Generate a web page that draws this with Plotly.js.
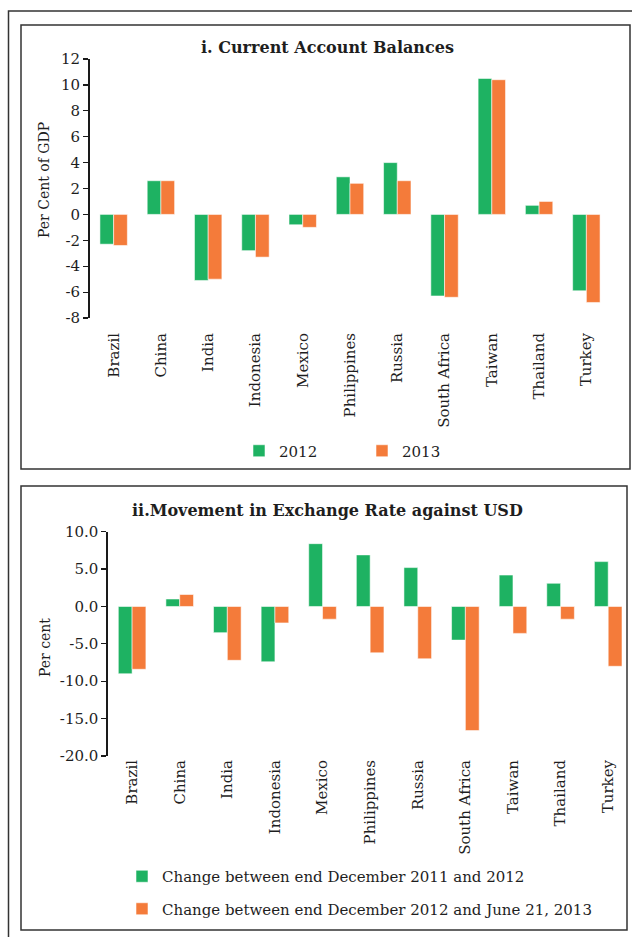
<!DOCTYPE html>
<html>
<head>
<meta charset="utf-8">
<script src="https://cdn.plot.ly/plotly-3.0.1.min.js"></script>
<style>html,body{margin:0;padding:0;background:#fff}#chart{width:632px;height:937px}</style>
</head>
<body>
<div id="chart"></div>
<script>
// ---- data ----
const countries = ["Brazil","China","India","Indonesia","Mexico","Philippines","Russia","South Africa","Taiwan","Thailand","Turkey"];
const caLabels = ["2012","2013"];
const ca2012 = [-2.3, 2.6, -5.1, -2.8, -0.8, 2.9, 4.0, -6.3, 10.5, 0.7, -5.9];
const ca2013 = [-2.4, 2.6, -5.0, -3.3, -1.0, 2.4, 2.6, -6.4, 10.4, 1.0, -6.8];
const fxLabels = ["Change between end December 2011 and 2012","Change between end December 2012 and June 21, 2013"];
const fx2012 = [-9.0, 1.0, -3.5, -7.4, 8.4, 6.9, 5.2, -4.5, 4.2, 3.1, 6.0];
const fx2013 = [-8.4, 1.6, -7.2, -2.2, -1.7, -6.2, -7.0, -16.6, -3.6, -1.7, -8.0];
const y1Ticks = [-8, -6, -4, -2, 0, 2, 4, 6, 8, 10, 12];
const y1TickText = ["-8", "-6", "-4", "-2", "0", "2", "4", "6", "8", "10", "12"];
const y2Ticks = [-20, -15, -10, -5, 0, 5, 10];
const y2TickText = ["-20.0", "-15.0", "-10.0", "-5.0", "0.0", "5.0", "10.0"];
const chart1Title = "i. Current Account Balances";
const chart1YTitle = "Per Cent of GDP";
const chart2Title = "ii.Movement in Exchange Rate against USD";
const chart2YTitle = "Per cent";

// ---- style ----
const W = 632, H = 937;
const GREEN = "#1eb262", ORANGE = "#f47b3a";
const FONT = "DejaVu Serif";
const TXT = "#1e1e1e";
const px = v => v / W;
const py = v => 1 - v / H;

const y1Range = [-8, 12], y2Range = [-20, 10];
const x1Dom = [px(90), px(610)], y1Dom = [py(318), py(59)];
const x2Dom = [px(108.3), 1], y2Dom = [py(756), py(531.7)];
const zeroPos = (dom, r) => dom[0] + (0 - r[0]) / (r[1] - r[0]) * (dom[1] - dom[0]);
const boundaries = countries.map((_, i) => i + 0.5);

const barLine = {color: "rgba(255,255,255,0.55)", width: 1};
const traces = [
  {type: "bar", x: countries, y: ca2012, name: caLabels[0], marker: {color: GREEN, line: barLine}, xaxis: "x", yaxis: "y", legend: "legend"},
  {type: "bar", x: countries, y: ca2013, name: caLabels[1], marker: {color: ORANGE, line: barLine}, xaxis: "x", yaxis: "y", legend: "legend"},
  {type: "bar", x: countries, y: fx2012, name: fxLabels[0], marker: {color: GREEN, line: barLine}, xaxis: "x3", yaxis: "y2", legend: "legend2", legendgroup: "a"},
  {type: "bar", x: countries, y: fx2013, name: fxLabels[1], marker: {color: ORANGE, line: barLine}, xaxis: "x3", yaxis: "y2", legend: "legend2", legendgroup: "b"}
];

const tickFont = {family: FONT, size: 15, color: TXT};
const catAxis = (dom, anchor, standoffLen) => ({
  domain: dom, anchor: anchor, type: "category", showline: false, showgrid: false, zeroline: false,
  ticks: standoffLen > 0 ? "outside" : "", ticklen: standoffLen, tickcolor: "rgba(0,0,0,0)", tickangle: -90, tickfont: tickFont,
  fixedrange: true
});
const zeroAxis = (overlay, pos) => ({
  overlaying: overlay, anchor: "free", position: pos, type: "linear", range: [-0.5, countries.length - 0.5],
  tickvals: boundaries, showticklabels: false, ticks: "outside", ticklen: 5, tickwidth: 1.2, tickcolor: "#222",
  showline: true, linewidth: 2, linecolor: "#1a1a1a", showgrid: false, zeroline: false
});
const valAxis = (dom, anchor, range, vals, txt) => ({
  domain: dom, anchor: anchor, range: range, tickmode: "array", tickvals: vals, ticktext: txt, showline: true, linewidth: 2,
  linecolor: "#1a1a1a", ticks: "outside", ticklen: 5, tickwidth: 1.2, tickcolor: "#1a1a1a", showgrid: false,
  zeroline: false, tickfont: tickFont
});

const boxLine = {color: "#333", width: 1.5};
const ann = (text, x, y, size, angle) => ({
  text: text, xref: "paper", yref: "paper", x: px(x), y: py(y), xanchor: "center", yanchor: "middle",
  showarrow: false, textangle: angle || 0, font: {family: FONT, size: size, color: TXT}
});
const layout = {
  width: W, height: H, margin: {l: 0, r: 0, t: 0, b: 0}, paper_bgcolor: "#fff", plot_bgcolor: "rgba(0,0,0,0)",
  barmode: "group", bargap: 0.42, bargroupgap: 0, showlegend: true,
  font: {family: FONT, color: TXT},
  xaxis: catAxis(x1Dom, "y", 8),
  yaxis: valAxis(y1Dom, "x", y1Range, y1Ticks, y1TickText),
  xaxis2: zeroAxis("x", zeroPos(y1Dom, y1Range)),
  xaxis3: catAxis(x2Dom, "y2", 0),
  yaxis2: valAxis(y2Dom, "x3", y2Range, y2Ticks, y2TickText),
  xaxis4: zeroAxis("x3", zeroPos(y2Dom, y2Range)),
  legend: {orientation: "h", x: px(239), xanchor: "left", y: py(451), yanchor: "middle", entrywidth: 78,
           font: {family: FONT, size: 15, color: TXT}, bgcolor: "rgba(0,0,0,0)"},
  legend2: {orientation: "v", x: px(122), xanchor: "left", y: py(860), yanchor: "top", traceorder: "grouped",
            tracegroupgap: 10, font: {family: FONT, size: 15, color: TXT}, bgcolor: "rgba(0,0,0,0)"},
  annotations: [
    ann("<b>" + chart1Title + "</b>", 327, 47, 16),
    ann("<b>" + chart2Title + "</b>", 327.5, 511, 16),
    ann(chart1YTitle, 44, 180, 14, -90),
    ann(chart2YTitle, 45, 648, 14, -90)
  ],
  shapes: [
    {type: "path", xref: "paper", yref: "paper", path: `M ${px(8.5)} 0 L ${px(8.5)} ${py(11)} L 1 ${py(11)}`, line: boxLine},
    {type: "rect", xref: "paper", yref: "paper", x0: px(21), x1: px(630), y0: py(469), y1: py(25), line: boxLine},
    {type: "rect", xref: "paper", yref: "paper", x0: px(21), x1: px(627), y0: py(930), y1: py(486), line: boxLine}
  ]
};

Plotly.newPlot("chart", traces, layout, {staticPlot: true, displayModeBar: false});
</script>
</body>
</html>
